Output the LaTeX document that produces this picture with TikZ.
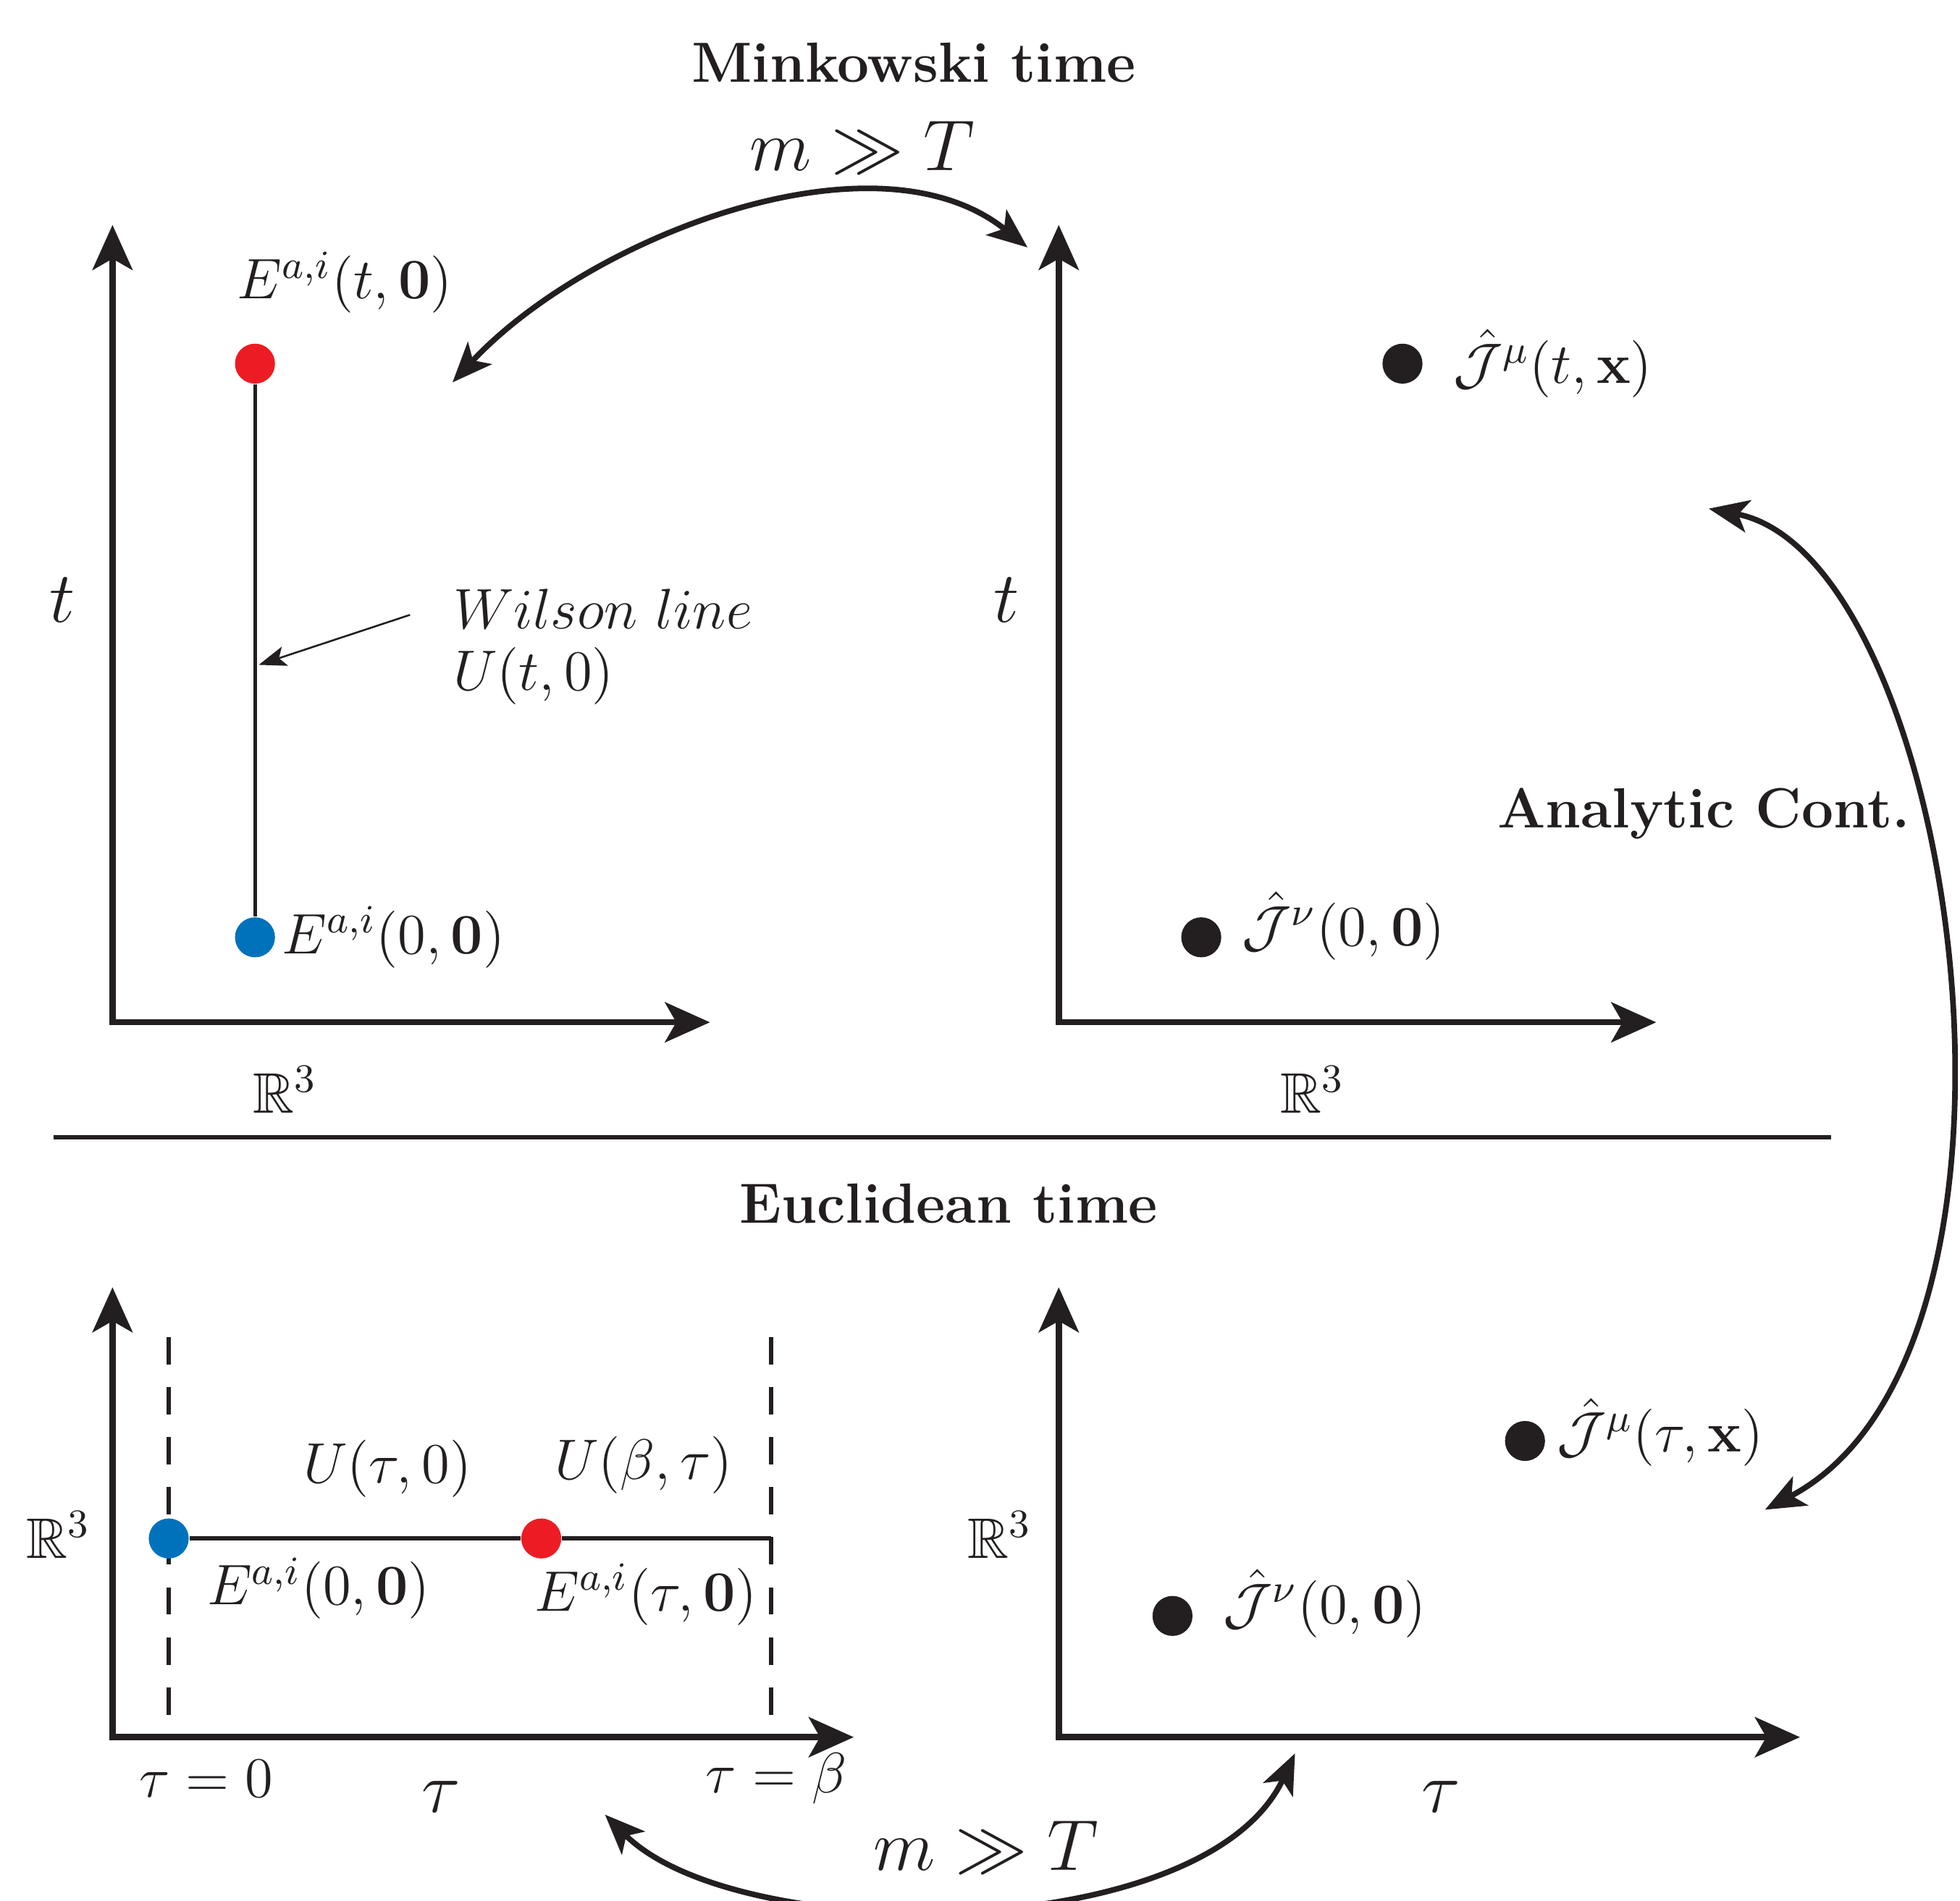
\RequirePackage{fix-cm}
\documentclass[tikz,border=0pt]{standalone}
\usepackage{amsmath,amssymb}
\usetikzlibrary{arrows.meta}
\definecolor{dotred}{RGB}{237,28,36}
\definecolor{dotblue}{RGB}{0,114,188}
\definecolor{ink}{RGB}{35,31,32}
\tikzset{
  bighead/.tip={Stealth[length=3.6mm,width=3.2mm,inset=0.9mm]},
  arcHead/.tip={Stealth[length=3.2mm,width=2.6mm,inset=0.8mm]},
  axis/.style={draw=ink,line width=0.5mm,bighead-bighead},
  wline/.style={draw=ink,line width=0.3mm},
  dline/.style={draw=ink,line width=0.35mm,dash pattern=on 2.2mm off 1.8mm},
  warrow/.style={draw=ink,line width=0.15mm,-{Stealth[length=2.2mm,width=1.6mm,inset=0.5mm]}},
  carrow/.style={draw=ink,line width=0.45mm,arcHead-arcHead},
  sepline/.style={draw=ink,line width=0.3mm},
  reddot/.style={circle,fill=dotred,inner sep=0pt,minimum size=3.2mm},
  bluedot/.style={circle,fill=dotblue,inner sep=0pt,minimum size=3.2mm},
  blackdot/.style={circle,fill=ink,inner sep=0pt,minimum size=3.2mm},
  lbl/.style={inner sep=0pt,text=ink,font=\fontsize{13}{15}\selectfont},
  biglbl/.style={inner sep=0pt,text=ink,font=\fontsize{16.4}{19}\selectfont},
  ttl/.style={inner sep=0pt,text=ink,font=\fontsize{12.9}{15}\selectfont\bfseries},
}
\begin{document}
\begin{tikzpicture}[x=0.1mm,y=-0.1mm]
\useasboundingbox (0,0) rectangle (1568,1521);

% ---------- titles ----------
\node[ttl] (mink) at (731,50) {Minkowski time};
\node[ttl] (eucl) at (759,963) {Euclidean time};
\node[ttl] (anac) at (1363,651) {Analytic Cont.};
\node[biglbl] (mT1) at (690,118) {$m \gg T$};
\node[biglbl] (mT2) at (789,1478) {$m \gg T$};

% ---------- separator ----------
\coordinate (sepL) at (43,910);
\coordinate (sepR) at (1465,910);
\draw[sepline] (sepL) -- (sepR);

% ---------- axes ----------
\coordinate (a1t) at (90,180);  \coordinate (a1o) at (90,818);  \coordinate (a1r) at (568,818);
\coordinate (a2t) at (847,180); \coordinate (a2o) at (847,818); \coordinate (a2r) at (1325,818);
\coordinate (a3t) at (90,1030); \coordinate (a3o) at (90,1390); \coordinate (a3r) at (683,1390);
\coordinate (a4t) at (847,1030); \coordinate (a4o) at (847,1390); \coordinate (a4r) at (1440,1390);
\draw[axis] (a1t) -- (a1o) -- (a1r);
\draw[axis] (a2t) -- (a2o) -- (a2r);
\draw[axis] (a3t) -- (a3o) -- (a3r);
\draw[axis] (a4t) -- (a4o) -- (a4r);

% ---------- axis labels ----------
\node[biglbl] (t1) at (50,480) {$t$};
\node[biglbl] (t2) at (805,480) {$t$};
\node[lbl] (R1) at (228,872) {$\mathbb{R}^3$};
\node[lbl] (R2) at (1050,872) {$\mathbb{R}^3$};
\node[lbl] (R3) at (47,1228) {$\mathbb{R}^3$};
\node[lbl] (R4) at (800,1228) {$\mathbb{R}^3$};
\node[biglbl] (tau1) at (353,1438) {$\tau$};
\node[biglbl] (tau2) at (1153,1438) {$\tau$};
\node[lbl] (tau0) at (165,1423) {$\tau=0$};
\node[lbl] (taub) at (621,1423) {$\tau=\beta$};

% ---------- top-left: Wilson line ----------
\node[reddot] (Et) at (204,291) {};
\node[bluedot] (E0) at (204,750) {};
\draw[wline] (Et) -- (E0);
\node[lbl] (Etl) at (276,226) {$E^{a,i}(t,\mathbf{0})$};
\node[lbl,anchor=west] (E0l) at (225,750) {$E^{a,i}(0,\mathbf{0})$};
\node[lbl,anchor=west] (wil) at (362,487) {$Wilson\ line$};
\node[lbl,anchor=west] (Ut0) at (362,541) {$U(t,0)$};
\coordinate (wtail) at (328,492);
\coordinate (wtip) at (207,532);
\draw[warrow] (wtail) -- (wtip);

% ---------- top-right ----------
\node[blackdot] (J1) at (1122,291) {};
\node[lbl,anchor=west] (J1l) at (1162,291) {$\hat{\mathcal{J}}^{\mu}(t,\mathbf{x})$};
\node[blackdot] (J2) at (961,750) {};
\node[lbl,anchor=west] (J2l) at (993,741) {$\hat{\mathcal{J}}^{\nu}(0,\mathbf{0})$};

% ---------- bottom-left ----------
\coordinate (d1t) at (135,1070); \coordinate (d1b) at (135,1390);
\coordinate (d2t) at (617,1070); \coordinate (d2b) at (617,1390);
\draw[dline] (d1t) -- (d1b);
\draw[dline] (d2t) -- (d2b);
\node[bluedot] (Eb0) at (135,1231) {};
\node[reddot] (Ebt) at (433,1231) {};
\coordinate (lend) at (617,1231);
\draw[wline,line width=0.35mm] (Eb0) -- (Ebt);
\draw[wline,line width=0.35mm] (Ebt) -- (lend);
\node[lbl] (Ut) at (310,1175) {$U(\tau,0)$};
\node[lbl] (Ub) at (515,1172) {$U(\beta,\tau)$};
\node[lbl,anchor=west] (Eb0l) at (165,1271) {$E^{a,i}(0,\mathbf{0})$};
\node[lbl,anchor=west] (Ebtl) at (427,1276) {$E^{a,i}(\tau,\mathbf{0})$};

% ---------- bottom-right ----------
\node[blackdot] (J3) at (1220,1153) {};
\node[lbl,anchor=west] (J3l) at (1245,1146) {$\hat{\mathcal{J}}^{\mu}(\tau,\mathbf{x})$};
\node[blackdot] (J4) at (938,1293) {};
\node[lbl,anchor=west] (J4l) at (978,1283) {$\hat{\mathcal{J}}^{\nu}(0,\mathbf{0})$};

% ---------- curved arrows ----------
\coordinate (c1a) at (362,306);
\coordinate (c1b) at (822,198);
\draw[carrow] (c1a) .. controls (470,190) and (700,100) .. (c1b);
\coordinate (c2a) at (1367,407);
\coordinate (c2b) at (1412,1208);
\draw[carrow] (c2a) .. controls (1565,445) and (1655,1080) .. (c2b);
\coordinate (c3a) at (484,1452);
\coordinate (c3b) at (1036,1403);
\draw[carrow] (c3a) .. controls (590,1558) and (964,1557) .. (c3b);
\end{tikzpicture}
\end{document}
